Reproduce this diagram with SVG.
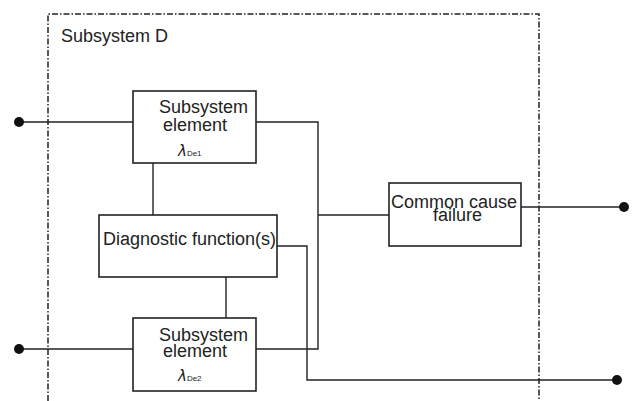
<svg xmlns="http://www.w3.org/2000/svg" width="637" height="401" viewBox="0 0 637 401">
<style>
.box{fill:#fff;stroke:#222;stroke-width:1.6}
.ln{fill:none;stroke:#222;stroke-width:1.4}
.bd{fill:none;stroke:#222;stroke-width:1.5;stroke-dasharray:6 2 1.5 2}
.t{font-family:"Liberation Sans",Arial,sans-serif;font-size:18px;fill:#222}
.lam{font-family:"DejaVu Sans","Liberation Sans",sans-serif;font-style:italic;font-size:15px;fill:#222}
.sub{font-family:"Liberation Sans",Arial,sans-serif;font-style:normal;font-size:8px;fill:#222}
.dot{fill:#111}
</style>
<rect width="637" height="401" fill="#fff"/>
<g id="subsystem-d">
<path class="bd" d="M48,401 V14 H539 V401"/>
<text class="t" x="61" y="42">Subsystem D</text>
</g>
<g id="connectors">
<line class="ln" x1="19" y1="122" x2="133" y2="122"/>
<line class="ln" x1="19" y1="349" x2="133" y2="349"/>
<polyline class="ln" points="256,122 318,122 318,349 256,349"/>
<line class="ln" x1="318" y1="215" x2="389" y2="215"/>
<line class="ln" x1="521" y1="207" x2="624" y2="207"/>
<line class="ln" x1="153" y1="163" x2="153" y2="215"/>
<line class="ln" x1="226" y1="277" x2="226" y2="318"/>
<polyline class="ln" points="277,246 307,246 307,380 617,380"/>
<circle class="dot" cx="19" cy="122" r="5"/>
<circle class="dot" cx="19" cy="349" r="5"/>
<circle class="dot" cx="624" cy="207" r="5"/>
<circle class="dot" cx="617" cy="380" r="5"/>
</g>
<g id="element1">
<rect class="box" x="133" y="91" width="123" height="72"/>
<text class="t" x="159" y="113">Subsystem</text>
<text class="t" x="163" y="131">element</text>
<text class="lam" x="178" y="156">λ<tspan class="sub">De1</tspan></text>
</g>
<g id="diagnostic">
<rect class="box" x="99" y="215" width="178" height="62"/>
<text class="t" x="103" y="245">Diagnostic function(s)</text>
</g>
<g id="element2">
<rect class="box" x="133" y="318" width="123" height="73"/>
<text class="t" x="159" y="341">Subsystem</text>
<text class="t" x="163" y="357">element</text>
<text class="lam" x="178" y="381">λ<tspan class="sub">De2</tspan></text>
</g>
<g id="ccf">
<rect class="box" x="389" y="183" width="132" height="63"/>
<text class="t" x="391" y="208">Common cause</text>
<text class="t" x="433" y="221">failure</text>
</g>
</svg>
